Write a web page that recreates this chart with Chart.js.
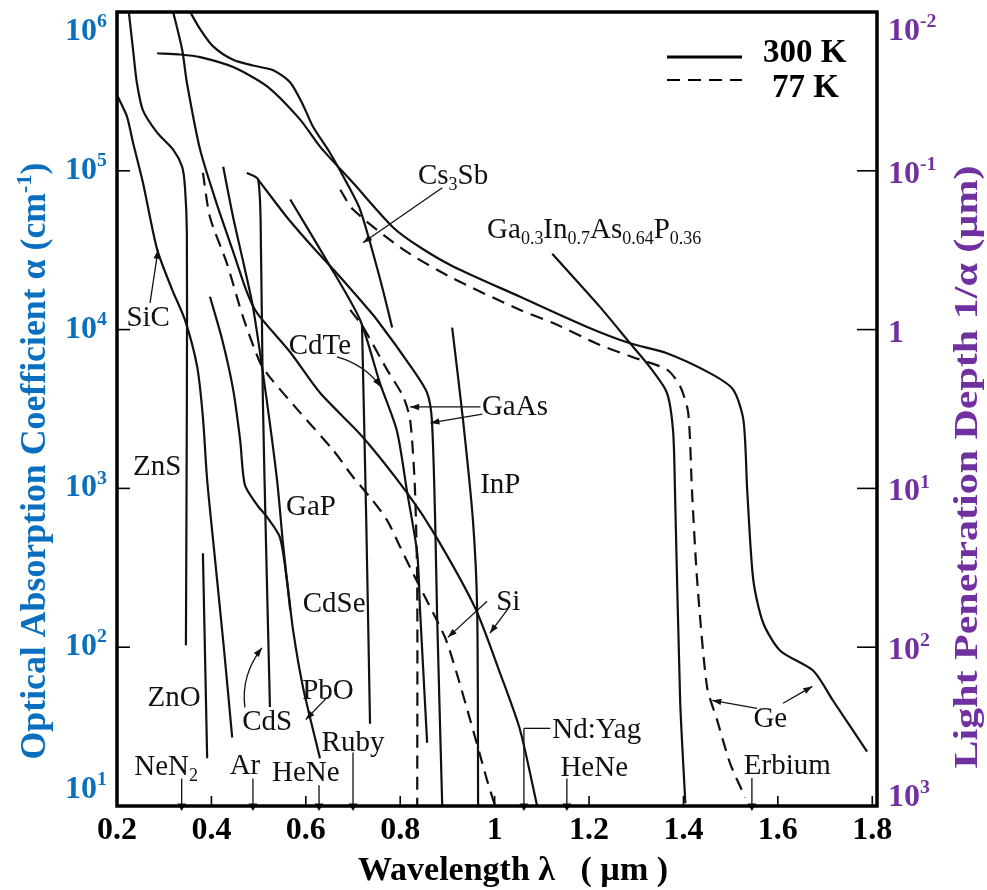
<!DOCTYPE html>
<html>
<head>
<meta charset="utf-8">
<script src="https://cdn.jsdelivr.net/npm/chart.js@4/dist/chart.umd.min.js"></script>
<style>
html,body{margin:0;padding:0;background:#fff;}
#c{display:block;}
</style>
</head>
<body>
<canvas id="c" width="987" height="890"></canvas>
<script>
// ---------- data: wavelength (µm) and absorption coefficient α (cm^-1) ----------
const znsWl    = [0.225,0.234,0.242,0.255,0.285,0.319,0.338,0.344,0.348,0.348,0.346];
const znsAlpha = [1.0e6,5.8e5,3.6e5,2.4e5,1.74e5,1.36e5,1.06e5,7.9e4,4.1e4,3.6e3,1.03e2];

const sicWl    = [0.200,0.221,0.234,0.255,0.285,0.317,0.344,0.370,0.382,0.391,0.408,0.427,0.444];
const sicAlpha = [3.0e5,2.2e5,1.5e5,8.4e4,3.2e4,1.78e4,1.15e4,5.8e3,2.8e3,1.13e3,350,95,27];

const cs3sbWl    = [0.355,0.376,0.403,0.446,0.488,0.531,0.567,0.594,0.615,0.651,0.683,0.715,0.757,0.783];
const cs3sbAlpha = [1.0e6,7.8e5,6.1e5,5.0e5,4.6e5,4.3e5,3.6e5,2.6e5,1.9e5,1.3e5,8.8e4,5.7e4,2.1e4,1.03e4];

const geWl    = [0.285,0.334,0.376,0.446,0.518,0.588,0.630,0.700,0.785,0.842,0.912,1.054,1.196,1.287,1.365,1.457,1.505,1.527,1.535,1.548,1.569,1.605,1.675,1.717,1.789];
const geAlpha = [5.5e5,5.4e5,5.2e5,4.5e5,3.4e5,2.1e5,1.42e5,8.4e4,4.4e4,3.3e4,2.5e4,1.61e4,1.04e4,8.2e3,7.1e3,5.3e3,4.2e3,2.7e3,980,264,142,95,71,46,22];

const ge77Wl    = [0.673,0.700,0.806,0.912,1.054,1.124,1.223,1.293,1.365,1.393,1.410,1.418,1.429,1.450,1.471,1.499,1.531];
const ge77Alpha = [7.6e4,5.7e4,3.2e4,2.1e4,1.33e4,1.10e4,8.0e3,6.7e3,5.6e3,4.4e3,3.0e3,975,264,56,35,18.5,11.3];

const gainaspWl    = [1.122,1.223,1.287,1.329,1.365,1.378,1.382,1.393,1.404];
const gainaspAlpha = [3.0e4,1.39e4,8.2e3,5.8e3,4.0e3,2.3e3,975,46,10.4];

const siWl    = [0.319,0.338,0.348,0.376,0.412,0.446,0.475,0.497,0.567,0.630,0.721,0.815,0.874,0.959,1.012,1.054,1.090];
const siAlpha = [1.0e6,5.8e5,3.6e5,1.36e5,6.1e4,3.1e4,1.73e4,1.27e4,7.2e3,4.0e3,2.1e3,933,508,176,68,30,10];

const si77Wl    = [0.382,0.397,0.433,0.467,0.503,0.524,0.588,0.658,0.700,0.736,0.772,0.800,0.827,0.895,0.920,0.948,0.969,0.984,1.001];
const si77Alpha = [9.7e4,5.1e4,2.6e4,1.2e4,6.2e3,5.0e3,3.0e3,1.74e3,1.18e3,881,631,427,292,115,68,35,21,14.5,10];

const gaasWl    = [0.499,0.560,0.615,0.658,0.715,0.751,0.827,0.857,0.867,0.874,0.878,0.889];
const gaasAlpha = [8.8e4,5.1e4,3.3e4,2.4e4,1.54e4,1.15e4,5.6e3,4.0e3,2.7e3,631,164,10];

const gaas77Wl    = [0.694,0.721,0.772,0.806,0.821,0.831,0.836,0.836];
const gaas77Alpha = [1.33e4,1.04e4,5.6e3,3.8e3,2.7e3,1.02e3,239,10];

const cdteWl    = [0.567,0.645,0.715,0.757,0.793,0.815,0.836,0.842,0.857];
const cdteAlpha = [6.6e4,2.7e4,1.15e4,4.6e3,2.3e3,933,391,171,25];

const inpWl    = [0.910,0.933,0.954,0.963,0.965];
const inpAlpha = [1.03e4,2.7e3,631,171,10];

const cdseWl    = [0.719,0.728,0.736];
const cdseAlpha = [1.07e4,631,33];

const cdsWl    = [0.475,0.499,0.505,0.509,0.516,0.524];
const cdsAlpha = [9.7e4,8.8e4,3.2e4,3.6e3,408,42];

const gapWl    = [0.425,0.446,0.467,0.488,0.514,0.539,0.552,0.567];
const gapAlpha = [1.06e5,5.1e4,2.7e4,1.39e4,4.2e3,1.13e3,439,171];

const pboWl    = [0.397,0.423,0.446,0.461,0.471,0.497,0.518,0.545,0.560,0.573,0.594,0.630];
const pboAlpha = [1.61e4,8.6e3,4.2e3,2.0e3,1.05e3,785,659,493,264,128,56,20];

const znoWl    = [0.382,0.391];
const znoAlpha = [391,20];

// laser lines (arrows down to the wavelength axis)
const laserNames    = ['NeN2','Ar','HeNe','Ruby','Nd:Yag','HeNe','Erbium'];
const laserWl       = [0.337,0.488,0.628,0.700,1.062,1.153,1.545];
const laserTopAlpha = [14.9,14.9,13.5,21.7,30.8,14.9,15];

// axis ticks
const xTickValues   = [0.2,0.4,0.6,0.8,1.0,1.2,1.4,1.6,1.8];
const leftTickExp   = [1,2,3,4,5,6];
const rightTickExp  = [3,2,1,0,-1,-2];

// ---------- chart ----------
const FONT = 'Liberation Serif';
const BLUE = '#0a6fbf';
const PURPLE = '#7030a0';

const curves = [
  ['ZnS', znsWl, znsAlpha, false], ['SiC', sicWl, sicAlpha, false],
  ['Cs3Sb', cs3sbWl, cs3sbAlpha, false], ['Ge 300 K', geWl, geAlpha, false],
  ['Ge 77 K', ge77Wl, ge77Alpha, true], ['GaInAsP', gainaspWl, gainaspAlpha, false],
  ['Si 300 K', siWl, siAlpha, false], ['Si 77 K', si77Wl, si77Alpha, true],
  ['GaAs 300 K', gaasWl, gaasAlpha, false], ['GaAs 77 K', gaas77Wl, gaas77Alpha, true],
  ['CdTe', cdteWl, cdteAlpha, false], ['InP', inpWl, inpAlpha, false],
  ['CdSe', cdseWl, cdseAlpha, false], ['CdS', cdsWl, cdsAlpha, false],
  ['GaP', gapWl, gapAlpha, false], ['PbO', pboWl, pboAlpha, false],
  ['ZnO', znoWl, znoAlpha, false]
];

const datasets = curves.map(([name, wl, a, dash]) => ({
  label: name,
  data: wl.map((w, i) => ({x: w, y: a[i]})),
  showLine: true, borderColor: '#111', backgroundColor: '#111',
  borderWidth: 2.2, borderDash: dash ? [13, 8] : [],
  pointRadius: 0, tension: 0.25, fill: false, yAxisID: 'y'
}));

laserWl.forEach((w, i) => {
  datasets.push({
    label: 'laser ' + laserNames[i],
    data: [{x: w, y: laserTopAlpha[i]}, {x: w, y: 10}],
    showLine: true, borderColor: '#111', borderWidth: 1.3,
    pointStyle: 'triangle', rotation: 180, pointRadius: [0, 5],
    pointBackgroundColor: '#111', pointBorderColor: '#111', pointBorderWidth: 0,
    clip: false, yAxisID: 'y'
  });
});

function rich(ctx, parts, x, y, size, bold, color, align) {
  const f = s => (bold ? 'bold ' : '') + s + 'px "' + FONT + '"';
  let w = 0;
  parts.forEach(([t, k]) => { ctx.font = f(k ? size * 0.62 : size); w += ctx.measureText(t).width; });
  let cx = align === 'left' ? x : align === 'right' ? x - w : x - w / 2;
  ctx.textAlign = 'left'; ctx.textBaseline = 'alphabetic'; ctx.fillStyle = color;
  parts.forEach(([t, k]) => {
    const s = k ? size * 0.62 : size;
    ctx.font = f(s);
    const dy = k === 1 ? -size * 0.40 : k === -1 ? size * 0.20 : 0;
    ctx.fillText(t, cx, y + dy);
    cx += ctx.measureText(t).width;
  });
  return w;
}

function arrow(ctx, x1, y1, x2, y2, cx, cy) {
  ctx.beginPath();
  ctx.moveTo(x1, y1);
  if (cx !== undefined) ctx.quadraticCurveTo(cx, cy, x2, y2); else ctx.lineTo(x2, y2);
  ctx.stroke();
  const bx = cx !== undefined ? cx : x1, by = cx !== undefined ? cy : y1;
  const ang = Math.atan2(y2 - by, x2 - bx);
  const L = 9, H = 3.2;
  ctx.beginPath();
  ctx.moveTo(x2, y2);
  ctx.lineTo(x2 - L * Math.cos(ang) + H * Math.sin(ang), y2 - L * Math.sin(ang) - H * Math.cos(ang));
  ctx.lineTo(x2 - L * Math.cos(ang) - H * Math.sin(ang), y2 - L * Math.sin(ang) + H * Math.cos(ang));
  ctx.closePath(); ctx.fill();
}

// label texts placed in data space: [parts, wavelength, log10(alpha), align]
const labels = [
  [[['SiC']], 0.266, 4.080, 'center'],
  [[['ZnS']], 0.285, 3.147, 'center'],
  [[['ZnO']], 0.321, 1.690, 'center'],
  [[['NeN'], ['2', -1]], 0.304, 1.255, 'center'],
  [[['Ar']], 0.471, 1.262, 'center'],
  [[['HeNe']], 0.600, 1.218, 'center'],
  [[['CdS']], 0.518, 1.539, 'center'],
  [[['PbO']], 0.647, 1.735, 'center'],
  [[['Ruby']], 0.700, 1.407, 'center'],
  [[['GaP']], 0.611, 2.895, 'center'],
  [[['CdSe']], 0.660, 2.283, 'center'],
  [[['CdTe']], 0.630, 3.904, 'center'],
  [[['GaAs']], 1.043, 3.519, 'center'],
  [[['InP']], 1.012, 3.033, 'center'],
  [[['Si']], 1.029, 2.296, 'center'],
  [[['Nd:Yag']], 1.122, 1.489, 'left'],
  [[['HeNe']], 1.211, 1.249, 'center'],
  [[['Erbium']], 1.620, 1.262, 'center'],
  [[['Ge']], 1.584, 1.558, 'center'],
  [[['Cs'], ['3', -1], ['Sb']], 0.912, 4.975, 'center'],
  [[['Ga'], ['0.3', -1], ['In'], ['0.7', -1], ['As'], ['0.64', -1], ['P'], ['0.36', -1]], 0.984, 4.635, 'left']
];
// pointer arrows: [wl1, lg1, wl2, lg2, (ctrl wl, ctrl lg)]
const pointers = [
  [0.270, 4.168, 0.287, 4.503],
  [0.889, 4.893, 0.721, 4.547],
  [0.666, 3.828, 0.759, 3.639, 0.726, 3.777],
  [0.970, 3.513, 0.821, 3.513],
  [0.974, 3.468, 0.864, 3.412],
  [0.984, 2.289, 0.901, 2.062],
  [1.029, 2.245, 0.990, 2.088],
  [0.471, 1.621, 0.507, 1.996, 0.462, 1.823],
  [0.645, 1.684, 0.600, 1.545],
  [1.556, 1.615, 1.461, 1.665],
  [1.611, 1.647, 1.673, 1.753]
];

function rotatedTitle(ctx, parts, cx, cy, size, color, length) {
  ctx.save();
  ctx.translate(cx, cy); ctx.rotate(-Math.PI / 2);
  const f = s => 'bold ' + s + 'px "' + FONT + '"';
  let w = 0;
  parts.forEach(([t, k]) => { ctx.font = f(k ? size * 0.62 : size); w += ctx.measureText(t).width; });
  ctx.scale(length / w, 1);
  rich(ctx, parts, 0, size * 0.33, size, true, color, 'center');
  ctx.restore();
}

const decor = {
  id: 'decor',
  beforeDraw(chart) {
    const ctx = chart.ctx;
    ctx.save(); ctx.fillStyle = '#fff'; ctx.fillRect(0, 0, chart.width, chart.height); ctx.restore();
  },
  afterDraw(chart) {
    const {ctx, chartArea: a, scales: {x, y, y2}} = chart;
    const P = (wl, lg) => [x.getPixelForValue(wl), y.getPixelForValue(Math.pow(10, lg))];
    ctx.save();
    // frame
    ctx.strokeStyle = '#000'; ctx.lineWidth = 3.5;
    ctx.strokeRect(a.left, a.top, a.right - a.left, a.bottom - a.top);
    // inward ticks
    ctx.lineWidth = 1.6;
    const seg = (x1, y1, x2, y2) => { ctx.beginPath(); ctx.moveTo(x1, y1); ctx.lineTo(x2, y2); ctx.stroke(); };
    leftTickExp.forEach(e => { const py = y.getPixelForValue(Math.pow(10, e)); if (py > a.top + 3 && py < a.bottom - 3) seg(a.left, py, a.left + 13, py); });
    rightTickExp.forEach(e => { const py = y2.getPixelForValue(Math.pow(10, e)); if (py > a.top + 3 && py < a.bottom - 3) seg(a.right - 20, py, a.right, py); });
    xTickValues.forEach(v => { const px = x.getPixelForValue(v); if (px > a.left + 3 && px < a.right - 3) seg(px, a.bottom, px, a.bottom - 10); });

    // y tick labels (left, blue) and (right, purple)
    leftTickExp.forEach(e => {
      let py = y.getPixelForValue(Math.pow(10, e)) - 3;
      py = Math.max(a.top + 17, Math.min(a.bottom - 19, py));
      rich(ctx, [['10'], [String(e), 1]], 107, py + 11, 32, true, BLUE, 'right');
    });
    rightTickExp.forEach(e => {
      let py = y2.getPixelForValue(Math.pow(10, e)) + 1;
      py = Math.max(a.top + 17, Math.min(a.bottom - 11, py));
      const parts = e === 0 ? [['1']] : [['10'], [String(e), 1]];
      rich(ctx, parts, 888, py + 11, 32, true, PURPLE, 'left');
    });

    // axis titles
    rotatedTitle(ctx, [['Optical Absorption Coefficient \u03b1 (cm'], ['-1', 1], [')']], 33, 461, 35, BLUE, 597);
    rotatedTitle(ctx, [['Light Penetration Depth 1/\u03b1 (\u00b5m)']], 966, 467, 34, PURPLE, 603);
    rich(ctx, [['Wavelength \u03bb   ( \u00b5m )']], 513, 880, 34, true, '#000', 'center');

    // legend
    ctx.strokeStyle = '#000'; ctx.lineWidth = 3;
    seg(a.right - 210, 57, a.right - 135, 57);
    ctx.lineWidth = 2.2; ctx.setLineDash([13, 8]);
    seg(a.right - 210, 80, a.right - 135, 80);
    ctx.setLineDash([]);
    rich(ctx, [['300 K']], a.right - 114, 62, 33, true, '#000', 'left');
    rich(ctx, [['77 K']], a.right - 105, 97, 33, true, '#000', 'left');

    // curve / laser labels
    labels.forEach(([parts, wl, lg, al]) => {
      const [px, py] = P(wl, lg);
      rich(ctx, parts, px, py + 9.5, 29, false, '#111', al);
    });
    // Nd:Yag bracket
    ctx.lineWidth = 1.3; ctx.strokeStyle = '#111'; ctx.fillStyle = '#111';
    { const [p1x, p1y] = P(1.118, 1.489); const [p2x] = P(1.062, 1.489); seg(p1x, p1y, p2x, p1y); }
    pointers.forEach(p => {
      const [x1, y1] = P(p[0], p[1]); const [x2, y2v] = P(p[2], p[3]);
      if (p.length > 4) { const [cx, cy] = P(p[4], p[5]); arrow(ctx, x1, y1, x2, y2v, cx, cy); }
      else arrow(ctx, x1, y1, x2, y2v);
    });
    ctx.restore();
  }
};

new Chart(document.getElementById('c'), {
  type: 'scatter',
  data: {datasets},
  options: {
    responsive: false, animation: false, devicePixelRatio: 1,
    layout: {padding: {top: 12, left: 0, right: 0, bottom: 0}},
    plugins: {legend: {display: false}, tooltip: {enabled: false}},
    scales: {
      x: {
        type: 'linear', min: 0.2, max: 1.81, position: 'bottom',
        afterFit: s => { s.height = 84; },
        grid: {display: false, drawTicks: false}, border: {display: false},
        ticks: {
          stepSize: 0.2, includeBounds: false, autoSkip: false, maxRotation: 0, padding: 6,
          color: '#000', font: {family: FONT, size: 32, weight: 'bold'},
          callback: v => String(Number(v.toFixed(1)))
        }
      },
      y: {
        type: 'logarithmic', min: 10, max: 1e6, position: 'left',
        afterFit: s => { s.width = 117; },
        grid: {display: false}, border: {display: false}, ticks: {display: false}
      },
      y2: {
        type: 'logarithmic', min: 0.01, max: 1000, reverse: true, position: 'right',
        afterFit: s => { s.width = 110; },
        grid: {display: false}, border: {display: false}, ticks: {display: false}
      }
    }
  },
  plugins: [decor]
});
</script>
</body>
</html>
